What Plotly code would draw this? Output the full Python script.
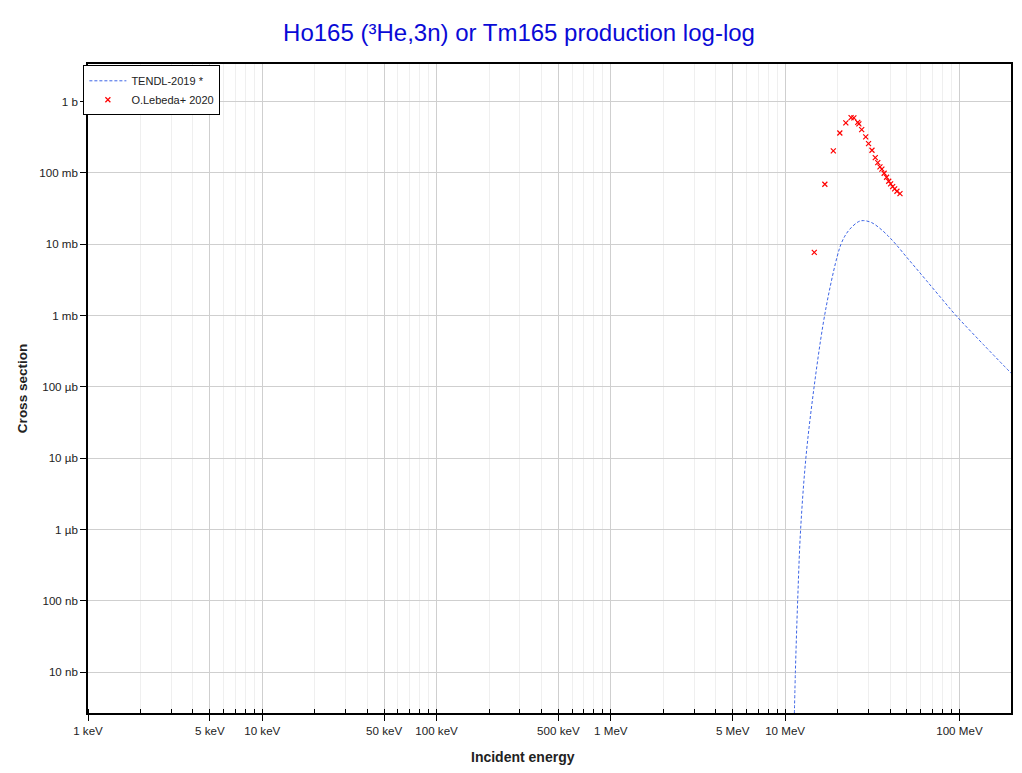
import plotly.graph_objects as go

# TENDL-2019 evaluated curve (energy in MeV, cross section in barns)
tendl_energy = [11.2, 11.45, 11.8, 12.27, 13.2, 14.7, 16.5, 18.1, 19.9, 20.9, 22.0, 23.5, 26.3, 28.1,
                31.3, 35.0, 39.1, 43.2, 49.8, 56.8, 64.9, 78.0, 95.0, 137.0, 200.0]
tendl_xs = [1e-9, 1e-8, 1e-7, 1e-6, 1.1e-5, 1.05e-4, 7.46e-4, 2.49e-3, 6.76e-3, 1.0e-2, 1.30e-2, 1.63e-2,
            2.07e-2, 2.15e-2, 2.02e-2, 1.67e-2, 1.30e-2, 1.0e-2, 6.6e-3, 4.52e-3, 3.07e-3, 1.8e-3,
            1.02e-3, 3.95e-4, 1.52e-4]

# O.Lebeda+ 2020 experimental points
exp_energy = [14.7, 16.9, 18.9, 20.6, 22.3, 23.9, 24.8, 26.1, 26.5, 27.5, 29.0, 30.1,
              31.5, 32.9, 34.0, 35.0, 35.9, 37.0, 38.2, 39.3, 40.3, 41.4, 42.5, 43.8, 45.6]
exp_xs = [7.7e-3, 6.95e-2, 0.204, 0.364, 0.503, 0.597, 0.591, 0.513, 0.487, 0.405, 0.320, 0.258,
          0.208, 0.164, 0.140, 0.122, 0.113, 0.099, 0.087, 0.0766, 0.0703, 0.0645, 0.0598, 0.0555, 0.0514]

x_tickvals = [1e-3, 5e-3, 1e-2, 5e-2, 1e-1, 0.5, 1, 5, 10, 100]
x_ticktext = ["1 keV", "5 keV", "10 keV", "50 keV", "100 keV", "500 keV", "1 MeV", "5 MeV", "10 MeV", "100 MeV"]
y_tickvals = [1e-8, 1e-7, 1e-6, 1e-5, 1e-4, 1e-3, 1e-2, 1e-1, 1]
y_ticktext = ["10 nb", "100 nb", "1 µb", "10 µb", "100 µb", "1 mb", "10 mb", "100 mb", "1 b"]

fig = go.Figure()
fig.add_trace(go.Scatter(x=tendl_energy, y=tendl_xs, mode="lines", name="TENDL-2019 *",
                         line=dict(color="#3c64e6", width=1, dash="3px,2px"), line_shape="spline"))
fig.add_trace(go.Scatter(x=exp_energy, y=exp_xs, mode="markers", name="O.Lebeda+ 2020",
                         marker=dict(symbol="x-thin", size=5, color="red",
                                     line=dict(color="red", width=1.2))))

font = "Liberation Sans, Arial, sans-serif"
fig.update_layout(
    width=1022, height=773,
    margin=dict(l=80, r=19, t=56, b=68),
    paper_bgcolor="white", plot_bgcolor="white",
    font=dict(family=font, size=11.6, color="#222"),
    title=dict(text="Ho165 (³He,3n) or Tm165 production log-log", x=0.5, xanchor="center",
               y=0.968, yanchor="middle", font=dict(size=24, color="#0a0ad6", family=font)),
    showlegend=True,
    legend=dict(x=-0.005, y=0.998, xanchor="left", yanchor="top", bgcolor="white",
                bordercolor="black", borderwidth=1, font=dict(size=11, color="#222"),
                itemwidth=37, tracegroupgap=0),
    annotations=[dict(text="<b>Incident energy</b>", xref="paper", yref="paper",
                      x=0.471, y=-0.0677, xanchor="center", yanchor="middle", showarrow=False,
                      font=dict(size=14, color="#222", family=font))],
)
fig.update_xaxes(
    type="log", range=[-3, 2.296], tickvals=x_tickvals, ticktext=x_ticktext,
    ticks="outside", ticklen=6, tickcolor="black", showline=True, linecolor="black", linewidth=1.5,
    mirror=True, showgrid=True, gridcolor="#cfcfcf", gridwidth=1, zeroline=False,
    minor=dict(dtick="D1", ticks="inside", ticklen=4, tickcolor="black", showgrid=True,
               gridcolor="#efefef"),
)
fig.update_yaxes(
    type="log", range=[-8.572, 0.528], tickvals=y_tickvals, ticktext=y_ticktext,
    ticks="outside", ticklen=6, tickcolor="black", showline=True, linecolor="black", linewidth=1.5,
    mirror=True, showgrid=True, gridcolor="#cfcfcf", gridwidth=1, zeroline=False,
    title=dict(text="<b>Cross section</b>", font=dict(size=13.5, color="#222"), standoff=9),
)

fig.write_html("out.html")
